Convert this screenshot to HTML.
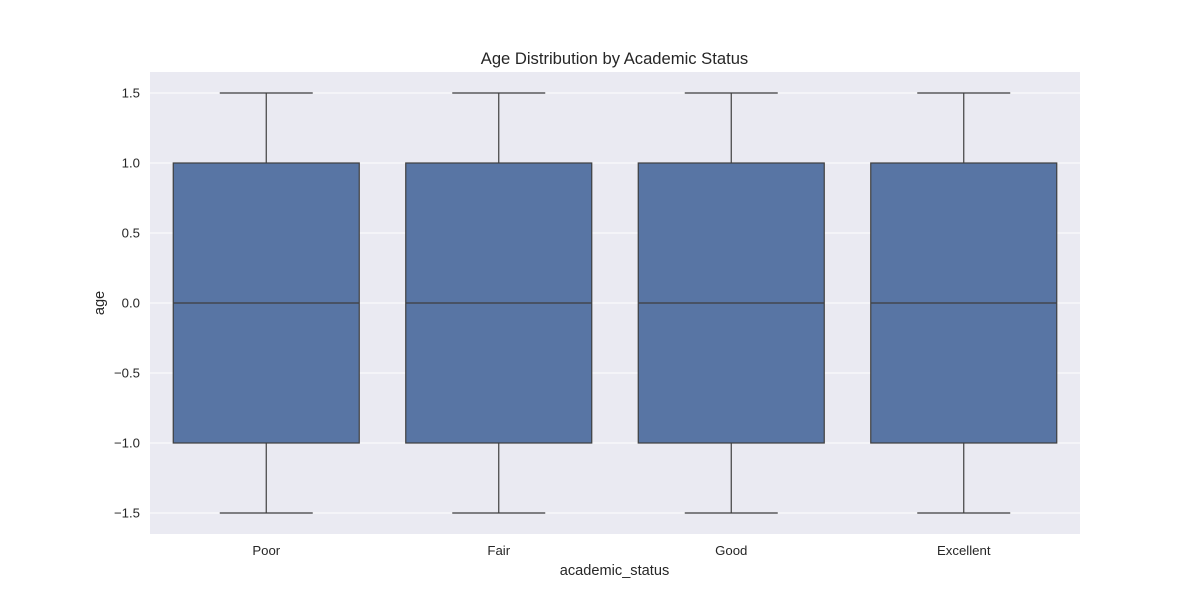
<!DOCTYPE html>
<html><head><meta charset="utf-8"><style>
body{margin:0;background:#fff;}
svg text{font-family:"Liberation Sans",sans-serif;fill:#262626;}
</style></head><body>
<svg id="chart" width="1200" height="600">
<text x="614.5" y="64" font-size="16.6" text-anchor="middle">Age Distribution by Academic Status</text>
<rect x="150" y="72" width="930" height="462" fill="#eaeaf2"/>
<g id="grid"></g>
<g id="boxes"></g>
<g id="xticks"></g>
<text x="614.5" y="575" font-size="14.6" text-anchor="middle">academic_status</text>
<text transform="translate(104,303) rotate(-90)" font-size="14.6" text-anchor="middle">age</text>
</svg>
<script>
const categories=["Poor","Fair","Good","Excellent"];
const whiskerLow=[-1.5,-1.5,-1.5,-1.5];
const q1=[-1,-1,-1,-1];
const medians=[0,0,0,0];
const q3=[1,1,1,1];
const whiskerHigh=[1.5,1.5,1.5,1.5];
const yTicks=[-1.5,-1.0,-0.5,0.0,0.5,1.0,1.5];
const yTickLabels=["\u22121.5","\u22121.0","\u22120.5","0.0","0.5","1.0","1.5"];
const NS="http://www.w3.org/2000/svg";
const px0=150,px1=1080,py0=72,py1=534,ymin=-1.65,ymax=1.65;
function y(v){return py1-(v-ymin)/(ymax-ymin)*(py1-py0);}
const band=(px1-px0)/categories.length;
function xc(i){return px0+band*(i+0.5);}
function mk(tag,attrs,parent){const e=document.createElementNS(NS,tag);for(const k in attrs)e.setAttribute(k,attrs[k]);parent.appendChild(e);return e;}
const grid=document.getElementById('grid');
yTicks.forEach((t,i)=>{
  const l=mk('line',{x1:px0,x2:px1,y1:y(t),y2:y(t),stroke:'#fff','stroke-width':1},grid);
  
  
  const tx=mk('text',{x:140,y:y(t)+4.5,'font-size':13.2,'text-anchor':'end'},grid);
  tx.textContent=yTickLabels[i];
  
  
});
const boxes=document.getElementById('boxes');
const xt=document.getElementById('xticks');
const bw=band*0.8, cw=bw/2, lc='#3f3f3f';
categories.forEach((c,i)=>{
  const cx=xc(i);
  const g=mk('g',{},boxes);
  
  
  mk('line',{x1:cx,x2:cx,y1:y(q3[i]),y2:y(whiskerHigh[i]),stroke:lc,'stroke-width':1.2},g);
  mk('line',{x1:cx,x2:cx,y1:y(q1[i]),y2:y(whiskerLow[i]),stroke:lc,'stroke-width':1.2},g);
  mk('line',{x1:cx-cw/2,x2:cx+cw/2,y1:y(whiskerHigh[i]),y2:y(whiskerHigh[i]),stroke:lc,'stroke-width':1.2},g);
  mk('line',{x1:cx-cw/2,x2:cx+cw/2,y1:y(whiskerLow[i]),y2:y(whiskerLow[i]),stroke:lc,'stroke-width':1.2},g);
  mk('rect',{x:cx-bw/2,y:y(q3[i]),width:bw,height:y(q1[i])-y(q3[i]),fill:'#5875a4',stroke:lc,'stroke-width':1.2},g);
  mk('line',{x1:cx-bw/2,x2:cx+bw/2,y1:y(medians[i]),y2:y(medians[i]),stroke:lc,'stroke-width':1.2},g);
  const t=mk('text',{x:cx,y:555,'font-size':13.2,'text-anchor':'middle'},xt);
  t.textContent=c;
  
  
});
</script>
</body></html>
